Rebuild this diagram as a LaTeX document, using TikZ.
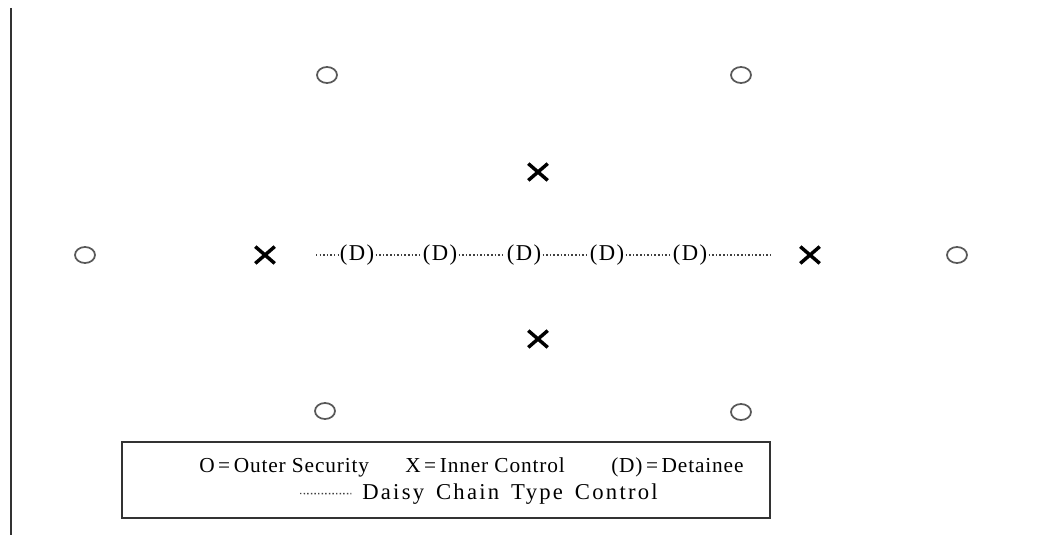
\documentclass[tikz,border=0pt]{standalone}
\usepackage{fontspec}
\setmainfont{Liberation Serif}
\newfontfamily\widefont[LetterSpace=10,WordSpace=1.5]{Liberation Serif}
\usetikzlibrary{shapes.geometric,shapes.misc}
\tikzset{
  guard/.style={ellipse,draw=black!65,line width=1.3pt,minimum width=15pt,minimum height=12pt,inner sep=0pt},
  inner/.style={cross out,draw=black,line width=2.6pt,minimum width=12pt,minimum height=10pt,inner sep=0pt},
  detainee/.style={font=\fontsize{17}{20}\selectfont\addfontfeature{LetterSpace=6},inner sep=1pt},
  key/.style={font=\fontsize{16}{19}\selectfont\addfontfeature{LetterSpace=4},anchor=base west,inner sep=0pt},
  wide key/.style={key,font=\widefont\fontsize{17}{20}\selectfont},
  chain/.style={black!75,line width=1.1pt,dash pattern=on 1.1pt off 1.6pt}
}
\begin{document}
\begin{tikzpicture}[x=0.75pt,y=-0.75pt]
\useasboundingbox (0,0) rectangle (1054,535);
\draw[black!80,line width=2.2pt] (11,8) -- (11,535);
% outer ring
\node[guard] (o1) at (327,75) {};
\node[guard] (o2) at (741,75) {};
\node[guard] (o3) at (85,255) {};
\node[guard] (o4) at (957,255) {};
\node[guard] (o5) at (325,411) {};
\node[guard] (o6) at (741,412) {};
% inner control
\node[inner] (x1) at (538,172) {};
\node[inner] (x2) at (265,255) {};
\node[inner] (x3) at (810,255) {};
\node[inner] (x4) at (538,339) {};
% the chain
\foreach \n/\px in {1/357,2/440,3/524,4/607,5/690}
  \node[detainee] (d\n) at (\px,255) {(D)};
\coordinate (c0) at (316,255);
\coordinate (c6) at (772,255);
\draw[chain] (c0) -- (d1);
\foreach \a/\b in {1/2,2/3,3/4,4/5}
  \draw[chain] (d\a) -- (d\b);
\draw[chain] (d5) -- (c6);
% legend
\draw[black!80,line width=1.2pt] (122,442) rectangle (770,518);
\node[key] (k1) at (199,472) {O\,=\,Outer Security};
\node[key] (k2) at (405,472) {X\,=\,Inner Control};
\node[key] (k3) at (611,472) {(D)\,=\,Detainee};
\coordinate (k0) at (300,493.5);
\node[wide key] (k4) at (362,499) {Daisy Chain Type Control};
\draw[chain] (k0) -- ([xshift=-8pt,yshift=4pt]k4.base west);
\end{tikzpicture}
\end{document}
